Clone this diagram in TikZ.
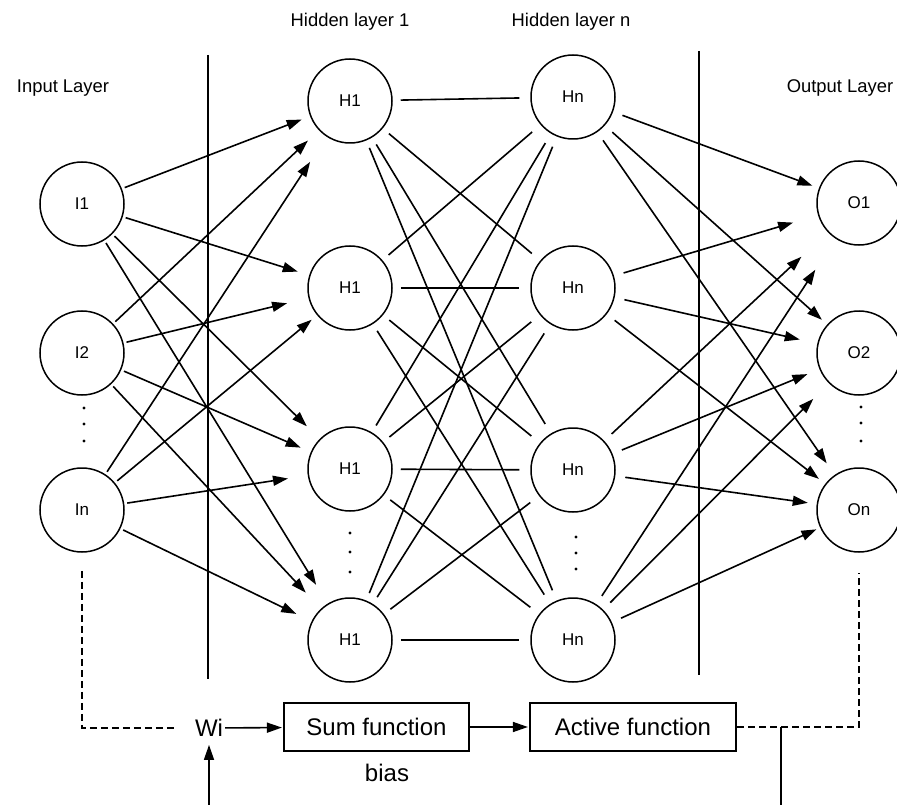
\documentclass[tikz,border=0pt]{standalone}
\usepackage{fontspec}
\setmainfont{Liberation Sans}
\usetikzlibrary{arrows.meta}

\tikzset{
  neuron/.style={circle, draw, line width=1.5pt, minimum size=84pt, inner sep=0pt,
    font=\fontsize{17}{20}\selectfont},
  link/.style={line width=1.6pt},
  feed/.style={link, -{Triangle[length=15pt,width=10pt]}},
  dashline/.style={line width=2.5pt, dash pattern=on 7pt off 4pt},
  sepline/.style={line width=1.3pt},
  funcbox/.style={draw, line width=2.2pt, minimum height=48pt, inner sep=0pt,
    font=\fontsize{24}{28}\selectfont},
  bottomtext/.style={inner sep=2pt, font=\fontsize{24}{28}\selectfont},
  layerlabel/.style={font=\fontsize{18.4}{22}\selectfont},
}

\begin{document}
\begin{tikzpicture}[x=1pt,y=-1pt]
    \useasboundingbox (0,0) rectangle (897,805);

    % layer titles
    \node[layerlabel] (inlabel) at (63,88) {Input Layer};
    \node[layerlabel] (h1label) at (350,22) {Hidden layer 1};
    \node[layerlabel] (hnlabel) at (571,22) {Hidden layer n};
    \node[layerlabel] (outlabel) at (840,88) {Output Layer};

    % separators
    \draw[sepline] (208,55) -- (208,679);
    \draw[sepline] (699,51) -- (699,675);

    % neurons
    \foreach \name/\y in {I1/204, I2/353, In/510}
        \node[neuron] (\name) at (82,\y) {\name};
    \foreach \name/\y in {a/101, b/288, c/469, d/640}
        \node[neuron] (H1\name) at (350,\y) {H1};
    \foreach \name/\y in {a/97, b/288, c/470, d/640}
        \node[neuron] (Hn\name) at (573,\y) {Hn};
    \foreach \name/\y in {O1/203, O2/353, On/510}
        \node[neuron] (\name) at (859,\y) {\name};

    % dots
    \foreach \x/\y in {84/408, 84/424, 84/441, 350/533, 350/552, 350/572,
                       576/537, 576/553, 576/569, 861/407, 861/423, 861/441}
        \fill (\x,\y) circle (1.6pt);

    % input -> hidden layer 1
    \foreach \src/\dst/\gap in {I1/H1a/9pt, I2/H1a/15pt, In/H1a/30pt,
                                I1/H1b/12pt, I2/H1b/22pt, In/H1b/7pt,
                                I1/H1c/18pt, I2/H1c/11pt, In/H1c/20pt,
                                I1/H1d/22pt, I2/H1d/22pt, In/H1d/17pt}
        \draw[feed, shorten <=3pt, shorten >=\gap] (\src) -- (\dst);

    % hidden layer 1 -- hidden layer n
    \foreach \a in {H1a,H1b,H1c,H1d}
        \foreach \b in {Hna,Hnb,Hnc,Hnd}
            \draw[link, shorten <=8pt, shorten >=11pt] (\a) -- (\b);

    % hidden layer n -> output
    \foreach \src/\dst/\gap in {Hna/O1/7pt, Hnb/O1/26pt, Hnc/O1/36pt, Hnd/O1/37pt,
                                Hna/O2/7pt, Hnb/O2/18pt, Hnc/O2/13pt, Hnd/O2/22pt,
                                Hna/On/14pt, Hnb/On/8pt, Hnc/On/9pt, Hnd/On/4pt}
        \draw[feed, shorten <=10pt, shorten >=\gap] (\src) -- (\dst);

    % neuron model
    \node[bottomtext] (Wi) at (209,728) {Wi};
    \node[funcbox, minimum width=185pt] (sum) at (376.5,727) {Sum function};
    \node[funcbox, minimum width=206pt] (act) at (633,727) {Active function};
    \node[bottomtext] (bias) at (387,773) {bias};

    \draw[feed, shorten >=1pt] (Wi) -- (sum);
    \draw[feed, shorten >=1pt] (sum) -- (act);
    \draw[dashline] ([yshift=-18pt]In.south) |- ([xshift=-16pt]Wi.west);
    \draw[dashline] (act.east) -| ([yshift=-20pt]On.south);

    \coordinate (fbtop) at (781,727);
    \coordinate (fbend) at (781,805);
    \coordinate (wiin) at (209,805);
    \draw[link] (fbtop) -- (fbend);
    \draw[feed, shorten >=6pt] (wiin) -- (Wi);
\end{tikzpicture}
\end{document}
